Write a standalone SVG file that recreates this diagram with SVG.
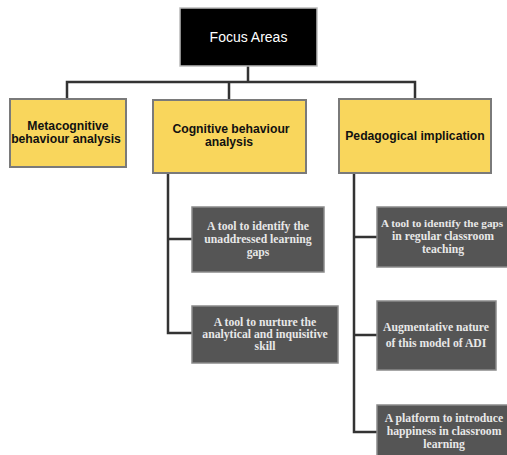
<svg xmlns="http://www.w3.org/2000/svg" width="507" height="455" viewBox="0 0 507 455">
  <style>
    .root { fill: #000; stroke: #bbb; stroke-width: 1.5; }
    .area { fill: #f9d65c; stroke: #7a7a7a; stroke-width: 2; }
    .item { fill: #555; stroke: #8a8a8a; stroke-width: 1.5; }
    .link { fill: none; stroke: #333; stroke-width: 2.5; }
    .t-root { font-family: "Liberation Sans", Arial, sans-serif; font-size: 14px; fill: #fff; text-anchor: middle; }
    .t-area { font-family: "Liberation Sans", Arial, sans-serif; font-size: 12.2px; font-weight: bold; fill: #111; text-anchor: middle; }
    .t-item { font-family: "Liberation Serif", "Times New Roman", serif; font-size: 11.7px; font-weight: bold; fill: #e8e8e8; text-anchor: middle; }
  </style>

  <g id="connectors">
    <path class="link" d="M248,66 V82 M67,99 V82 H415 V99 M229,82 V100"/>
    <path class="link" d="M168,173 V333 H192 M168,239 H192"/>
    <path class="link" d="M354,173 V432 H377 M354,237 H377 M354,335 H377"/>
  </g>

  <g id="focus-areas">
    <rect class="root" x="180" y="8" width="137" height="58"/>
    <text class="t-root" x="248.5" y="42">Focus Areas</text>
  </g>

  <g id="metacognitive">
    <rect class="area" x="10" y="99" width="116" height="68"/>
    <text class="t-area" x="68" y="130">Metacognitive</text>
    <text class="t-area" x="66" y="143">behaviour analysis</text>
  </g>

  <g id="cognitive">
    <rect class="area" x="153" y="100" width="153" height="73"/>
    <text class="t-area" x="231" y="133">Cognitive behaviour</text>
    <text class="t-area" x="229" y="146">analysis</text>
  </g>

  <g id="pedagogical">
    <rect class="area" x="339" y="99" width="152" height="74"/>
    <text class="t-area" x="415" y="140">Pedagogical implication</text>
  </g>

  <g id="identify-learning-gaps">
    <rect class="item" x="192" y="207" width="132" height="65"/>
    <text class="t-item" x="258" y="230">A tool to identify the</text>
    <text class="t-item" x="258" y="243">unaddressed learning</text>
    <text class="t-item" x="258" y="256">gaps</text>
  </g>

  <g id="nurture-skill">
    <rect class="item" x="192" y="306" width="146" height="57"/>
    <text class="t-item" x="265" y="326">A tool to nurture the</text>
    <text class="t-item" x="265" y="338">analytical and inquisitive</text>
    <text class="t-item" x="265" y="350">skill</text>
  </g>

  <g id="identify-classroom-gaps">
    <rect class="item" x="377" y="207" width="135" height="60"/>
    <text class="t-item" x="442" y="227" style="font-size:11.2px">A tool to identify the gaps</text>
    <text class="t-item" x="443" y="240">in regular classroom</text>
    <text class="t-item" x="443" y="253">teaching</text>
  </g>

  <g id="augmentative-nature">
    <rect class="item" x="377" y="301" width="119" height="69"/>
    <text class="t-item" x="436" y="331">Augmentative nature</text>
    <text class="t-item" x="436" y="347">of this model of ADI</text>
  </g>

  <g id="happiness-platform">
    <rect class="item" x="377" y="405" width="135" height="55"/>
    <text class="t-item" x="444" y="422">A platform to introduce</text>
    <text class="t-item" x="444" y="435">happiness in classroom</text>
    <text class="t-item" x="444" y="448">learning</text>
  </g>
</svg>
